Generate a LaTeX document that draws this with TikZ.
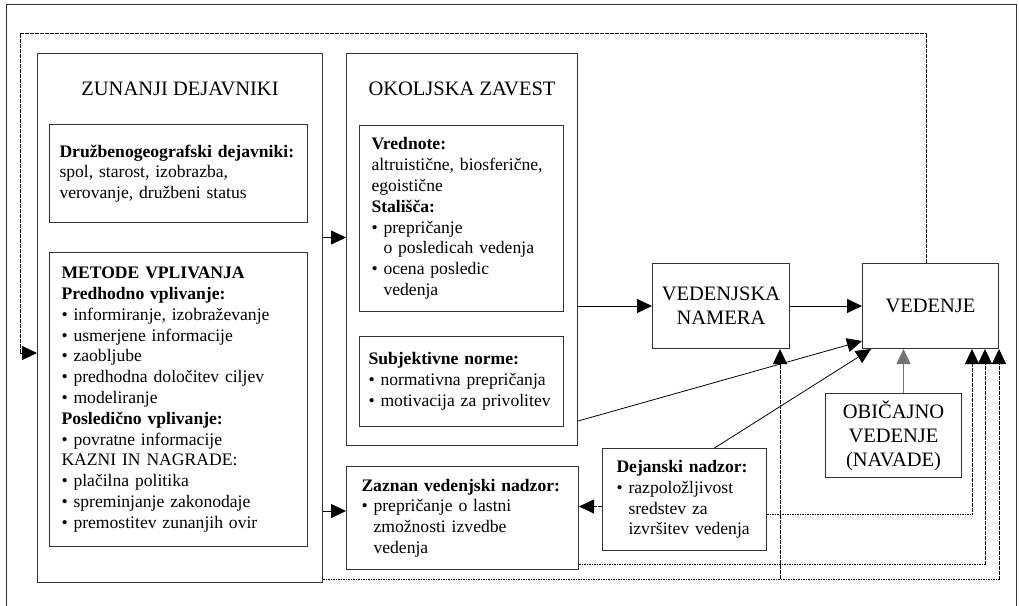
\documentclass[tikz,border=0pt]{standalone}
\usepackage{fontspec}
\setmainfont{Liberation Serif}
\usepackage{tikz}
\usetikzlibrary{arrows.meta,positioning,calc}
\newcommand{\bul}{\textbullet\ }
\newcommand{\ind}{\phantom{\textbullet\ }}

\begin{document}
\begin{tikzpicture}[x=1pt,y=-1pt,
  box/.style={draw=black!80,line width=1pt,anchor=north west,inner ysep=0pt},
  tbox/.style={box,align=left,font=\fontsize{17.6}{20.8}\selectfont},
  big/.style={font=\fontsize{20.5}{24}\selectfont,align=center},
  arr/.style={-{Triangle[length=15pt,width=14pt]},line width=0.8pt},
  darr/.style={arr,dash pattern=on 1.6pt off 0.9pt}]
\useasboundingbox (0,0) rectangle (1019,605);
\draw[line width=1pt,black!80] (6.5,606) |- (1016.5,4.5) -- (1016.5,606);

\node[box,minimum width=285pt,minimum height=529pt] (zun) at (37,53) {};
\node[big,below=25pt of zun.north] (zuntitle) {ZUNANJI DEJAVNIKI};
\node[tbox,inner xsep=10pt,text width=238pt,minimum height=98pt] (dru) at (49,124)
  {\textbf{Družbenogeografski dejavniki:}\\ spol, starost, izobrazba,\\ verovanje, družbeni status};
\node[tbox,inner xsep=12pt,text width=234pt,minimum height=294pt] (met) at (49,252)
  {\textbf{METODE VPLIVANJA}\\ \textbf{Predhodno vplivanje:}\\ \bul informiranje, izobraževanje\\
   \bul usmerjene informacije\\ \bul zaobljube\\ \bul predhodna določitev ciljev\\ \bul modeliranje\\
   \textbf{Posledično vplivanje:}\\ \bul povratne informacije\\ KAZNI IN NAGRADE:\\
   \bul plačilna politika\\ \bul spreminjanje zakonodaje\\ \bul premostitev zunanjih ovir};

\node[box,minimum width=231pt,minimum height=392pt] (oko) at (346,53) {};
\node[big,below=25pt of oko.north] (okotitle) {OKOLJSKA ZAVEST};
\node[tbox,inner xsep=12pt,text width=180pt,minimum height=186pt] (vre) at (359,125)
  {\textbf{Vrednote:}\\ altruistične, biosferične,\\ egoistične\\ \textbf{Stališča:}\\
   \bul prepričanje\\ \ind o posledicah vedenja\\ \bul ocena posledic\\ \ind vedenja};
\node[tbox,inner xsep=9pt,text width=186pt,minimum height=90pt] (sub) at (359,336)
  {\textbf{Subjektivne norme:}\\ \bul normativna prepričanja\\ \bul motivacija za privolitev};

\node[tbox,inner xsep=15pt,text width=202pt,minimum height=103pt] (zaz) at (346,466)
  {\textbf{Zaznan vedenjski nadzor:}\\ \bul prepričanje o lastni\\ \ind zmožnosti izvedbe\\ \ind vedenja};
\node[tbox,inner xsep=14pt,text width=136pt,minimum height=102pt] (dej) at (602,448)
  {\textbf{Dejanski nadzor:}\\ \bul razpoložljivost\\ \ind sredstev za\\ \ind izvršitev vedenja};

\node[box,big,minimum width=137pt,minimum height=85pt] (nam) at (652,263) {VEDENJSKA\\ NAMERA};
\node[box,big,minimum width=136pt,minimum height=85pt] (ved) at (862,263) {VEDENJE};
\node[box,big,minimum width=136pt,minimum height=84pt] (obi) at (825,393) {OBIČAJNO\\ VEDENJE\\ (NAVADE)};

\coordinate (gap) at ($(dru.south)!.5!(met.north)$);
\coordinate (cl) at ([yshift=4pt]zun.south east);
\coordinate (nb) at ([xshift=-10pt]nam.south east);
\coordinate (fb) at (20,33);

\draw[arr] (zun.east |- gap) -- (oko.west |- gap);
\draw[arr] ([yshift=7pt]zun.east |- zaz.west) -- ([yshift=7pt]zaz.west);
\draw[arr] (oko.east |- nam.west) -- (nam.west);
\draw[arr] (nam.east) -- (ved.west);
\draw[arr] ([yshift=6pt]oko.east |- sub.south) -- ([yshift=8pt]ved.south west);
\draw[arr] ([xshift=30pt]dej.north) -- ([xshift=9pt]ved.south west);
\draw[arr,black!55,line width=1.2pt] ([xshift=10pt]obi.north) -- ([xshift=10pt]obi.north |- ved.south);
\draw[darr] ([yshift=-7pt]dej.west) -- ([yshift=-7pt]dej.west -| zaz.east);
\draw[darr] ([yshift=-15pt]dej.east) -| ([xshift=-27pt]ved.south east);
\draw[darr] ([yshift=6pt]zaz.south east) -| ([xshift=-14pt]ved.south east);
\draw[darr] (cl) -| (ved.south east);
\draw[darr] (cl -| nb) -- (nb);
\draw[darr] ([xshift=-4pt]ved.north) |- (fb) |- ([yshift=-35pt]zun.west);
\end{tikzpicture}
\end{document}
